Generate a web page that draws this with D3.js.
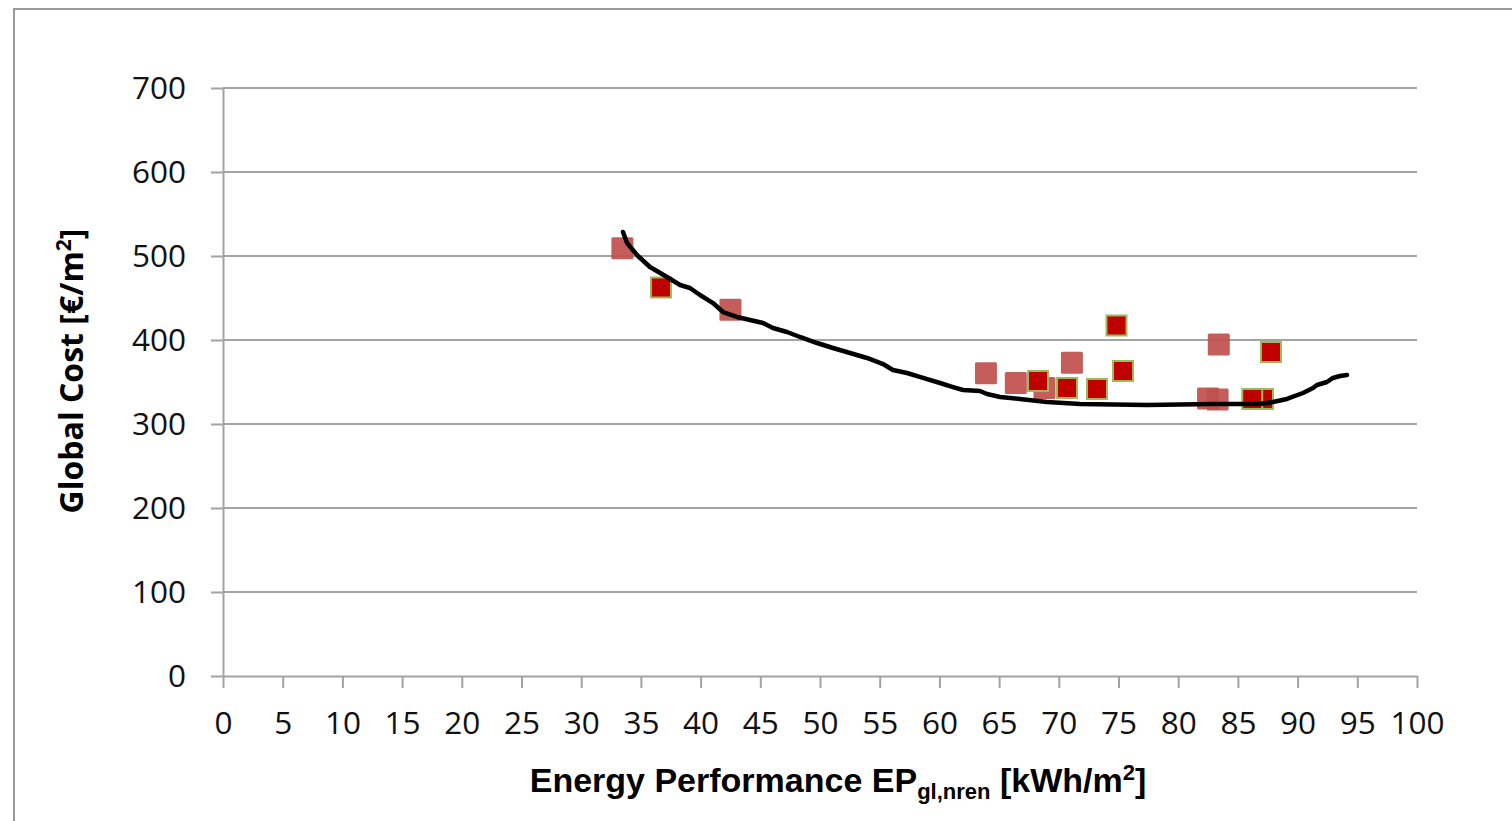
<!DOCTYPE html>
<html>
<head>
<meta charset="utf-8">
<script src="https://cdn.jsdelivr.net/npm/d3@7"></script>
<style>
  html, body { margin: 0; padding: 0; background: #fff; }
  svg { display: block; }
</style>
</head>
<body>
<svg id="chart" width="1512" height="821"></svg>
<script>
// Tick values
const xTicks = d3.range(0, 101, 5);
const yTicks = [0, 100, 200, 300, 400, 500, 600, 700];

// Cost-optimal frontier (EP, global cost)
const frontierEP   = [33.5, 33.84, 34.67, 35.76, 37.19, 38.28, 39.11, 39.95, 41.04, 41.88, 43.05, 44.14, 45.23, 46.06, 47.24, 48.32, 49.75, 51.09, 52.51, 53.94, 55.28, 56.11, 57.29, 58.63, 60.05, 61.14, 61.98, 63.4, 63.99, 65.08, 66.75, 69.01, 71.78, 77.39, 82.91, 86.85, 87.94, 89.11, 90.45, 91.29, 91.62, 92.46, 92.96, 93.55, 94.14];
const frontierCost = [528.6, 515.5, 501.2, 486.9, 475.0, 465.5, 461.9, 453.6, 444.0, 433.3, 427.4, 423.8, 420.2, 414.3, 409.5, 403.6, 396.4, 390.5, 384.5, 378.6, 371.4, 364.3, 360.7, 354.8, 348.8, 344.0, 340.5, 339.3, 335.7, 332.1, 329.8, 326.2, 323.8, 322.6, 323.8, 323.8, 326.2, 329.8, 336.9, 342.9, 346.4, 350.0, 354.8, 357.1, 358.3];

// Package set A (light squares)
const setAEP   = [33.45, 42.5, 63.9, 66.4, 68.8, 71.1, 83.4, 83.3, 82.5];
const setACost = [509.2, 436.1, 360.4, 348.8, 342.9, 372.9, 394.6, 329.2, 330.4];

// Package set B (dark squares with green outline)
const setBEP   = [36.68, 74.83, 75.38, 68.26, 70.69, 73.2, 87.77, 87.1, 86.2];
const setBCost = [462.5, 417.3, 363.1, 351.2, 342.9, 341.7, 385.7, 329.8, 329.8];

const svg = d3.select("#chart");
const gridColor = "#a3a3a3";
const tickFont = "'Open Sans', 'Liberation Sans', sans-serif";

const x = d3.scaleLinear().domain([0, 100]).range([223, 1417]);
const y = d3.scaleLinear().domain([0, 700]).range([676, 88]);

// Outer frame (continues past the right and bottom edges)
svg.append("rect")
  .attr("x", 14).attr("y", 9)
  .attr("width", 1700).attr("height", 1000)
  .attr("fill", "none")
  .attr("stroke", "#9a9a9a")
  .attr("stroke-width", 2);

// Horizontal gridlines
svg.append("g")
  .selectAll("line")
  .data(yTicks.filter(d => d > 0))
  .join("line")
  .attr("x1", x(0)).attr("x2", x(100))
  .attr("y1", d => y(d)).attr("y2", d => y(d))
  .attr("stroke", gridColor)
  .attr("stroke-width", 2);

// Y axis
const yAxis = svg.append("g")
  .attr("transform", `translate(${x(0)},0)`)
  .call(d3.axisLeft(y).tickValues(yTicks).tickSize(12).tickSizeOuter(0).tickPadding(25));

// X axis
const xAxis = svg.append("g")
  .attr("transform", `translate(0,${y(0)})`)
  .call(d3.axisBottom(x).tickValues(xTicks).tickSize(12).tickSizeOuter(0).tickPadding(24));

[yAxis, xAxis].forEach(g => {
  g.select(".domain").attr("stroke", gridColor).attr("stroke-width", 2);
  g.selectAll(".tick line").attr("stroke", gridColor).attr("stroke-width", 2);
  g.selectAll(".tick text")
    .attr("fill", "#111")
    .style("font-family", tickFont)
    .style("font-size", "31.5px");
});

// Frontier curve
const line = d3.line()
  .x((d, i) => x(frontierEP[i]))
  .y((d, i) => y(frontierCost[i]));

// Square markers
const sq = 22;
svg.append("g")
  .selectAll("rect")
  .data(setAEP.map((ep, i) => [ep, setACost[i]]))
  .join("rect")
  .attr("x", d => x(d[0]) - sq / 2)
  .attr("y", d => y(d[1]) - sq / 2)
  .attr("width", sq).attr("height", sq)
  .attr("rx", 1.5)
  .attr("fill", "#c0504d")
  .attr("fill-opacity", 0.92);

svg.append("g")
  .selectAll("rect")
  .data(setBEP.map((ep, i) => [ep, setBCost[i]]))
  .join("rect")
  .attr("x", d => x(d[0]) - (sq - 2) / 2)
  .attr("y", d => y(d[1]) - (sq - 2) / 2)
  .attr("width", sq - 2).attr("height", sq - 2)
  .attr("fill", "#c00000")
  .attr("stroke", "#9bbb59")
  .attr("stroke-width", 2);

svg.append("path")
  .datum(frontierEP)
  .attr("d", line)
  .attr("fill", "none")
  .attr("stroke", "#000")
  .attr("stroke-width", 4.5)
  .attr("stroke-linejoin", "round")
  .attr("stroke-linecap", "round");

// Y axis title
const yTitle = svg.append("text")
  .attr("transform", "translate(83,371) rotate(-90)")
  .attr("text-anchor", "middle")
  .style("font-family", "'Open Sans', 'Liberation Sans', sans-serif")
  .style("font-weight", "bold")
  .style("font-size", "32px")
  .attr("fill", "#000");
yTitle.append("tspan").text("Global Cost [€/m");
yTitle.append("tspan").attr("dy", -12).style("font-size", "21px").text("2");
yTitle.append("tspan").attr("dy", 12).text("]");

// X axis title
const xTitle = svg.append("text")
  .attr("x", 838).attr("y", 792)
  .attr("text-anchor", "middle")
  .style("font-family", "'Liberation Sans', Arial, sans-serif")
  .style("font-weight", "bold")
  .style("font-size", "34px")
  .attr("fill", "#000");
xTitle.append("tspan").text("Energy Performance EP");
xTitle.append("tspan").attr("dy", 7).style("font-size", "22px").text("gl,nren");
xTitle.append("tspan").attr("dy", -7).text(" [kWh/m");
xTitle.append("tspan").attr("dy", -12).style("font-size", "22px").text("2");
xTitle.append("tspan").attr("dy", 12).text("]");
</script>
</body>
</html>
